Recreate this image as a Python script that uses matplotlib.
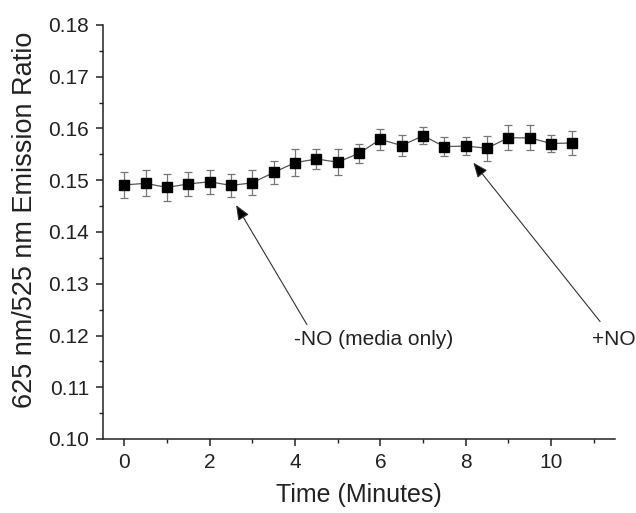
import matplotlib
matplotlib.use("Agg")
import matplotlib.pyplot as plt
from matplotlib.ticker import MultipleLocator, FormatStrFormatter

plt.rcParams['font.family'] = ['Liberation Sans', 'DejaVu Sans']

time_min = [0, 0.5, 1.0, 1.5, 2.0, 2.5, 3.0, 3.5, 4.0, 4.5, 5.0,
            5.5, 6.0, 6.5, 7.0, 7.5, 8.0, 8.5, 9.0, 9.5, 10.0, 10.5]
ratio = [0.1491, 0.1494, 0.1486, 0.1493, 0.1497, 0.1490, 0.1495, 0.1515,
         0.1534, 0.1541, 0.1535, 0.1552, 0.1579, 0.1567, 0.1586, 0.1565,
         0.1566, 0.1562, 0.1582, 0.1582, 0.1571, 0.1572]
ratio_err = [0.0025, 0.0025, 0.0026, 0.0023, 0.0023, 0.0023, 0.0024, 0.0023,
             0.0026, 0.0020, 0.0025, 0.0019, 0.0020, 0.0020, 0.0016, 0.0019,
             0.0018, 0.0024, 0.0024, 0.0024, 0.0017, 0.0023]

ann_texts = ["-NO (media only)", "+NO"]
ann_heads = [(2.62, 0.1452), (8.18, 0.1534)]
ann_tails = [(4.28, 0.1221), (11.15, 0.1227)]
ann_text_pos = [(3.98, 0.1192), (10.96, 0.1192)]

fig = plt.figure(figsize=(6.36, 5.13), dpi=100)
ax = fig.add_axes([103/636, 1-439/513, (615-103)/636, (439-25)/513])

ax.errorbar(time_min, ratio, yerr=ratio_err, fmt='s', color='black',
            markersize=6.5, ecolor='#777777', elinewidth=0.9, capsize=2.6,
            capthick=0.9, zorder=3)
ax.plot(time_min, ratio, '-', color='#555555', lw=0.9, zorder=2)

ax.set_xlim(-0.5, 11.5)
ax.set_ylim(0.10, 0.18)
ax.xaxis.set_major_locator(MultipleLocator(2))
ax.xaxis.set_minor_locator(MultipleLocator(1))
ax.yaxis.set_major_locator(MultipleLocator(0.01))
ax.yaxis.set_minor_locator(MultipleLocator(0.005))
ax.yaxis.set_major_formatter(FormatStrFormatter('%.2f'))

for s in ['top', 'right']:
    ax.spines[s].set_visible(False)
for s in ['left', 'bottom']:
    ax.spines[s].set_linewidth(1.1)
    ax.spines[s].set_color('#222222')

ax.tick_params(which='major', direction='out', length=5, width=1.1,
               labelsize=15, pad=5, colors='#222222')
ax.tick_params(which='minor', direction='out', length=3, width=1.0,
               colors='#222222')
ax.tick_params(axis='x', which='major', pad=5)

for txt, head, tail, tpos in zip(ann_texts, ann_heads, ann_tails, ann_text_pos):
    ax.annotate('', xy=head, xytext=tail,
                arrowprops=dict(arrowstyle='-|>,head_length=0.6,head_width=0.25',
                                color='#555555', lw=0.8,
                                mutation_scale=15, shrinkA=0, shrinkB=0,
                                fc='black', ec='#333333'),
                annotation_clip=False)
    ax.text(tpos[0], tpos[1], txt, fontsize=15, ha='left', va='center',
            color='#222222', clip_on=False)

fig.text(359/636, 1-495/513, 'Time (Minutes)', fontsize=18, ha='center',
         va='center', color='#222222')
fig.text(25/636, 1-220/513, '625 nm/525 nm Emission Ratio', fontsize=19.5,
         ha='center', va='center', rotation=90, color='#222222')

fig.savefig('out.png', dpi=100)
